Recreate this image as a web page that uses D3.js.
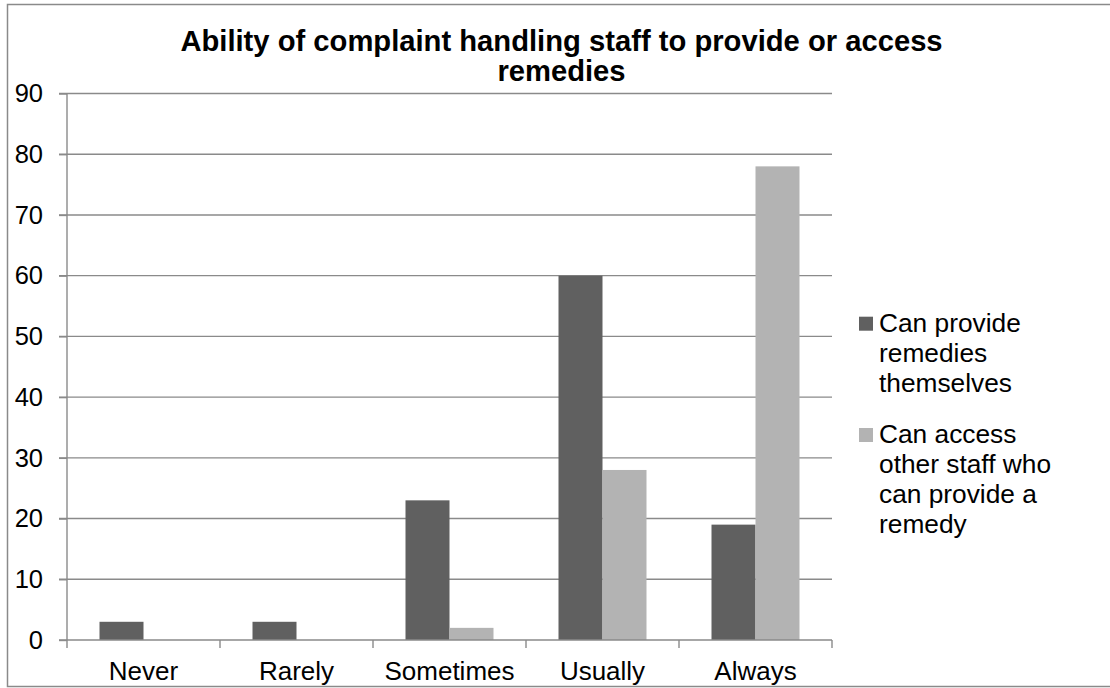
<!DOCTYPE html>
<html>
<head>
<meta charset="utf-8">
<script src="https://cdn.jsdelivr.net/npm/d3@7"></script>
<style>
  html, body { margin: 0; padding: 0; background: #fff; }
  svg { display: block; font-family: "Liberation Sans", Arial, sans-serif; }
</style>
</head>
<body>
<svg id="chart" width="1110" height="688"></svg>
<script>
// Survey responses: how often complaint handling staff can resolve complaints
const categories = ["Never", "Rarely", "Sometimes", "Usually", "Always"];
const seriesNames = ["Can provide remedies themselves", "Can access other staff who can provide a remedy"];
const provideThemselves = [3, 3, 23, 60, 19];
const accessOtherStaff = [0, 0, 2, 28, 78];
const yTicks = [0, 10, 20, 30, 40, 50, 60, 70, 80, 90];
const titleLines = ["Ability of complaint handling staff to provide or access", "remedies"];
const legendLines = [
  ["Can provide", "remedies", "themselves"],
  ["Can access", "other staff who", "can provide a", "remedy"]
];

const colors = ["#606060", "#b3b3b3"];
const gridColor = "#8a8a8a";

const svg = d3.select("#chart");
const W = 1110, H = 688;

// outer chart frame
svg.append("rect")
  .attr("x", 7.5).attr("y", 4.5)
  .attr("width", W).attr("height", 682)
  .attr("fill", "#fff").attr("stroke", "#8a8a8a").attr("stroke-width", 1.5);

const plot = { left: 67, right: 832, top: 93.5, bottom: 640 };

const x0 = d3.scaleBand().domain(categories).range([plot.left, plot.right]).paddingInner(0).paddingOuter(0);
const x1 = d3.scaleBand().domain([0, 1]).range([0, 88]);
const y = d3.scaleLinear().domain([0, 90]).range([plot.bottom, plot.top]);

// horizontal gridlines with outward ticks
svg.append("g").selectAll("line").data(yTicks.filter(d => d > 0)).join("line")
  .attr("x1", plot.left - 8).attr("x2", plot.right)
  .attr("y1", d => y(d)).attr("y2", d => y(d))
  .attr("stroke", gridColor).attr("stroke-width", 1.4);

// bars
const series = [provideThemselves, accessOtherStaff];
const groups = svg.append("g").selectAll("g").data(categories).join("g")
  .attr("transform", d => `translate(${x0(d) + (x0.bandwidth() - 88) / 2},0)`);
groups.selectAll("rect").data((c, i) => series.map((s, k) => ({ k, v: s[i] }))).join("rect")
  .attr("x", d => x1(d.k))
  .attr("width", x1.bandwidth())
  .attr("y", d => y(d.v))
  .attr("height", d => y(0) - y(d.v))
  .attr("fill", d => colors[d.k]);

// y axis
const yAxis = svg.append("g").attr("transform", `translate(${plot.left},0)`)
  .call(d3.axisLeft(y).tickValues(yTicks).tickSize(8).tickPadding(16).tickFormat(d3.format("d")));
yAxis.select(".domain").attr("stroke", gridColor).attr("stroke-width", 1.4)
  .attr("d", `M0,${plot.top}V${plot.bottom}`);
yAxis.selectAll(".tick line").attr("stroke", gridColor).attr("stroke-width", 1.4);
yAxis.selectAll(".tick text").attr("font-size", 25.5).attr("fill", "#000")
  .attr("font-family", "'Liberation Sans', Arial, sans-serif");

// x axis with tick marks on category boundaries
const xAxisG = svg.append("g").attr("transform", `translate(0,${plot.bottom})`);
xAxisG.append("line").attr("x1", plot.left - 8).attr("x2", plot.right)
  .attr("stroke", gridColor).attr("stroke-width", 1.4);
const bounds = categories.map(c => x0(c)).concat([plot.right]);
xAxisG.selectAll("line.tk").data(bounds).join("line").attr("class", "tk")
  .attr("x1", d => d).attr("x2", d => d).attr("y1", 0).attr("y2", 8)
  .attr("stroke", gridColor).attr("stroke-width", 1.4);
xAxisG.selectAll("text").data(categories).join("text")
  .attr("x", d => x0(d) + x0.bandwidth() / 2).attr("y", 40)
  .attr("text-anchor", "middle").attr("font-size", 26).attr("fill", "#000")
  .text(d => d);

// title
svg.append("g").selectAll("text").data(titleLines).join("text")
  .attr("x", 561.5).attr("y", (d, i) => 51 + i * 30)
  .attr("text-anchor", "middle").attr("font-size", 29.2).attr("font-weight", "bold")
  .attr("fill", "#000").text(d => d);

// legend
const legend = svg.append("g");
const legendTops = [331.7, 443];
legendLines.forEach((lines, k) => {
  legend.append("rect")
    .attr("x", 859).attr("y", legendTops[k] - 15).attr("width", 14).attr("height", 14)
    .attr("fill", colors[k]);
  legend.append("g").selectAll("text").data(lines).join("text")
    .attr("x", 879).attr("y", (d, i) => legendTops[k] + i * 30)
    .attr("font-size", 26.3).attr("fill", "#000").text(d => d);
});
</script>
</body>
</html>
